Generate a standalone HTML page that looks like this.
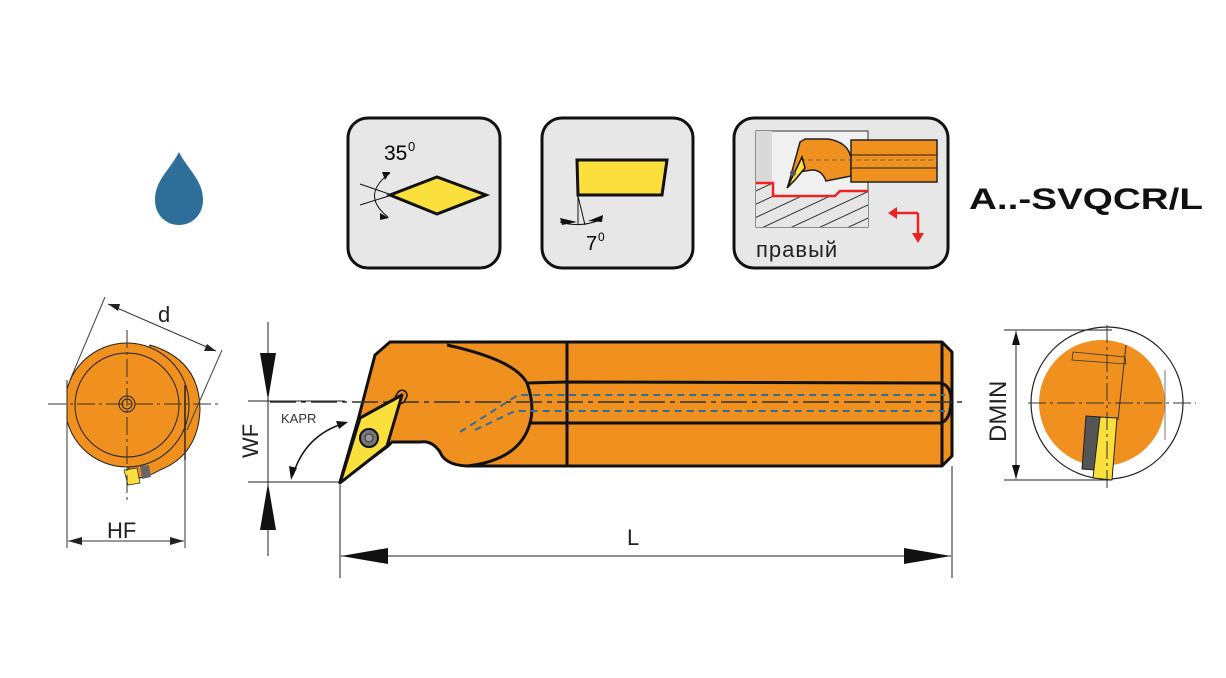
<!DOCTYPE html>
<html><head><meta charset="utf-8"><style>html,body{margin:0;padding:0;background:#fff}svg{display:block}</style></head>
<body>
<svg width="1226" height="678" viewBox="0 0 1226 678" xmlns="http://www.w3.org/2000/svg" font-family="Liberation Sans, sans-serif">
<defs>
<pattern id="hatch" width="12" height="12" patternUnits="userSpaceOnUse" patternTransform="rotate(-25)">
<rect width="12" height="12" fill="#e6e6e6"/><line x1="0" y1="0" x2="12" y2="0" stroke="#333" stroke-width="2"/></pattern>
<clipPath id="rc"><rect x="1000" y="300" width="165" height="200"/></clipPath>
<clipPath id="lc"><rect x="67" y="300" width="200" height="250"/></clipPath>
</defs>
<!-- drop -->
<path d="M179,152 C170,170 155,180 155,200 C155,215 166,225 179,225 C192,225 203,215 203,200 C203,180 188,170 179,152 Z" fill="#2e6f9a"/>
<!-- icon boxes -->
<rect x="348" y="118" width="152" height="150" rx="20" fill="#e8e7e8" stroke="#111" stroke-width="3"/>
<rect x="542" y="118" width="151" height="150" rx="20" fill="#e8e7e8" stroke="#111" stroke-width="3"/>
<rect x="734" y="118" width="214" height="150" rx="20" fill="#e8e7e8" stroke="#111" stroke-width="3"/>
<!-- icon1 -->
<polygon points="390,195 437,177 486,195 437,214" fill="#fbdf3c" stroke="#111" stroke-width="3"/>
<line x1="360" y1="184" x2="392" y2="195" stroke="#111"/><line x1="360" y1="205" x2="392" y2="195" stroke="#111"/>
<path d="M390,173 Q360,195 388,217" fill="none" stroke="#111"/>
<polygon points="382,172 390,172 385,180" fill="#111"/><polygon points="380,213 389,218 380,220" fill="#111"/>
<text x="384" y="160" font-size="21">35</text><text x="408" y="151" font-size="13">0</text>
<!-- icon2 -->
<polygon points="577,160 667,160 662,195 578,195" fill="#fbdf3c" stroke="#111" stroke-width="3"/>
<line x1="578" y1="196" x2="578" y2="225" stroke="#111"/><line x1="578" y1="196" x2="585" y2="225" stroke="#111"/>
<path d="M560,222 Q580,228 600,220" fill="none" stroke="#111"/>
<polygon points="560,218 577,222 562,225" fill="#111"/><polygon points="603,215 588,221 602,222" fill="#111"/>
<text x="586" y="250" font-size="20">7</text><text x="598" y="241" font-size="12">0</text>
<!-- icon3 -->
<rect x="756" y="131" width="112" height="96" fill="#f0f0f0" stroke="#333" stroke-width="1"/>
<rect x="756" y="131" width="16" height="52" fill="#d9d9d9"/>
<polygon points="756,183 772,183 772,196 835,196 840,190 868,190 868,227 756,227" fill="url(#hatch)"/>
<polyline points="756,183 773,183 773,196 835,196 840,191 868,191" fill="none" stroke="#e22" stroke-width="2.5"/>
<path d="M800,142 L805,139 L828,139 Q848,142 851,158 L851,176 L826,181 Q822,170 812,170 L798,172 L788,186 Z" fill="#f0901e" stroke="#222" stroke-width="1.5"/>
<rect x="851" y="140" width="86" height="42" fill="#f0901e" stroke="#222" stroke-width="1.5"/>
<line x1="851" y1="155" x2="937" y2="155" stroke="#222"/><line x1="851" y1="168" x2="937" y2="168" stroke="#222"/>
<line x1="800" y1="160" x2="937" y2="160" stroke="#555" stroke-dasharray="5,3" stroke-width="0.8"/>
<polygon points="787,188 802,157 805,168 795,180" fill="#fbdf3c" stroke="#111" stroke-width="1.5"/>
<circle cx="793" cy="173" r="3" fill="#555"/>
<polyline points="918,213 918,238" fill="none" stroke="#e22" stroke-width="2.5"/>
<polyline points="918,213 895,213" fill="none" stroke="#e22" stroke-width="2.5"/>
<polygon points="888,213 897,207 897,219" fill="#e22"/><polygon points="918,243 912,233 924,233" fill="#e22"/>
<text x="756" y="257" font-size="22" fill="#222" letter-spacing="1">правый</text>
<!-- title -->
<text x="969" y="209" font-size="30" font-weight="bold" textLength="234" lengthAdjust="spacingAndGlyphs" fill="#111">A..-SVQCR/L</text>

<!-- left view -->
<g clip-path="url(#lc)">
<path d="M150,345 Q200,360 200,410 Q198,455 160,470 Q150,476 140,478 L127,467 Z" fill="#f0901e" stroke="#222" stroke-width="1"/>
<circle cx="127" cy="405" r="62" fill="#f0901e" stroke="#222" stroke-width="1"/>
</g>
<line x1="67" y1="380" x2="67" y2="430" stroke="#222"/>
<circle cx="127" cy="405" r="52" fill="none" stroke="#222" stroke-width="1"/>
<circle cx="127" cy="404" r="8" fill="none" stroke="#222"/><circle cx="127" cy="404" r="5" fill="none" stroke="#222"/>
<line x1="185" y1="385" x2="185" y2="460" stroke="#222" stroke-width="1.5"/>
<polygon points="124,470 137,468 140,483 128,485" fill="#fbdf3c" stroke="#333" stroke-width="0.8"/>
<polygon points="140,466 149,465 151,477 142,479" fill="#666"/>
<line x1="48" y1="404" x2="218" y2="404" stroke="#333" stroke-dasharray="18,4,3,4"/>
<line x1="127" y1="330" x2="127" y2="500" stroke="#333" stroke-dasharray="18,4,3,4"/>
<line x1="105" y1="297" x2="70" y2="380" stroke="#444"/><line x1="222" y1="350" x2="187" y2="430" stroke="#444"/>
<line x1="108" y1="304" x2="216" y2="351" stroke="#333"/>
<polygon points="108,304 120,304 118,311" fill="#222"/><polygon points="216,351 204,351 207,344" fill="#222"/>
<text x="158" y="322" font-size="22" fill="#222">d</text>
<line x1="67" y1="420" x2="67" y2="548" stroke="#333"/><line x1="185" y1="430" x2="185" y2="548" stroke="#333"/>
<line x1="68" y1="541" x2="184" y2="541" stroke="#333"/>
<polygon points="68,541 82,537 82,545" fill="#222"/><polygon points="184,541 170,537 170,545" fill="#222"/>
<text x="107" y="538" font-size="22" fill="#222">HF</text>

<!-- main tool -->
<line x1="248" y1="401" x2="345" y2="401" stroke="#222"/><line x1="248" y1="482" x2="340" y2="482" stroke="#222"/>
<line x1="268" y1="322" x2="268" y2="556" stroke="#222"/>
<polygon points="260,353 276,353 268,400" fill="#111"/><polygon points="260,530 276,530 268,483" fill="#111"/>
<text transform="translate(258,458) rotate(-90)" font-size="22" fill="#222">WF</text>
<text x="281" y="423" font-size="13" fill="#333">KAPR</text>
<path d="M293,475 Q305,435 345,423" fill="none" stroke="#111" stroke-width="1.5"/>
<polygon points="291,480 289,466 297,468" fill="#111"/><polygon points="348,422 336,421 339,429" fill="#111"/>

<path d="M390,342 L942,342 L952,352 L952,456 L942,466 L467,466 Q445,465 440,452 Q432,440 420,442 L392,442 L388,446 L340,482 L358,420 L375,355 Z" fill="#f0901e" stroke="#111" stroke-width="3" stroke-linejoin="round"/>
<path d="M447,345 Q515,360 527,383 Q535,405 530,423 Q520,460 467,466" fill="none" stroke="#111" stroke-width="3"/>
<path d="M527,383 L567,382 L940,383 Q952,385 951,403 Q950,421 940,423 L567,423 L530,423" fill="none" stroke="#111" stroke-width="3"/>
<line x1="567" y1="342" x2="567" y2="466" stroke="#111" stroke-width="3"/>
<line x1="942" y1="342" x2="942" y2="466" stroke="#111" stroke-width="3"/>
<line x1="390" y1="342" x2="375" y2="355" stroke="#111" stroke-width="2"/>
<line x1="270" y1="402" x2="965" y2="402" stroke="#333" stroke-width="1.5" stroke-dasharray="26,5,5,5"/>
<path d="M460,432 L518,395 L945,395 M475,430 L515,411 L945,411" fill="none" stroke="#2e6f9a" stroke-width="2" stroke-dasharray="7,5"/>
<rect x="396" y="390" width="10" height="14" rx="5" transform="rotate(30 401 397)" fill="#f0901e" stroke="#111" stroke-width="1.5"/>
<polygon points="340,483 360,418 402,395 387,446" fill="#fbdf3c" stroke="#111" stroke-width="3" stroke-linejoin="round"/>
<circle cx="369" cy="438" r="9" fill="#777" stroke="#111" stroke-width="2"/><circle cx="369" cy="438" r="4" fill="#999" stroke="#333"/>
<!-- L -->
<line x1="340" y1="485" x2="340" y2="578" stroke="#222"/><line x1="952" y1="466" x2="952" y2="578" stroke="#222"/>
<line x1="341" y1="556" x2="951" y2="556" stroke="#222"/>
<polygon points="341,556 388,548 388,564" fill="#111"/><polygon points="951,556 904,548 904,564" fill="#111"/>
<text x="627" y="545" font-size="22" fill="#222">L</text>

<!-- right view -->
<circle cx="1107" cy="403" r="76" fill="#fff" stroke="#222" stroke-width="1.2"/>
<circle cx="1102" cy="403" r="63" fill="#f0901e" clip-path="url(#rc)"/>
<line x1="1165" y1="370" x2="1165" y2="440" stroke="#555" stroke-width="0.8"/>
<polygon points="1073,352 1125,357 1126,364 1072,360" fill="#f0901e" stroke="#333" stroke-width="0.8"/>
<line x1="1126" y1="345" x2="1118" y2="420" stroke="#333" stroke-width="1"/>
<polygon points="1086,416 1100,417 1095,470 1082,469" fill="#555" stroke="#222"/>
<polygon points="1100,417 1117,418 1112,480 1093,478" fill="#fbdf3c" stroke="#222"/>
<line x1="1028" y1="403" x2="1196" y2="403" stroke="#333" stroke-dasharray="18,4,3,4"/>
<line x1="1107" y1="325" x2="1107" y2="488" stroke="#333" stroke-dasharray="18,4,3,4"/>
<line x1="1004" y1="330" x2="1112" y2="330" stroke="#222"/><line x1="1004" y1="480" x2="1112" y2="480" stroke="#222"/>
<line x1="1016" y1="331" x2="1016" y2="479" stroke="#222"/>
<polygon points="1016,331 1012,345 1020,345" fill="#111"/><polygon points="1016,479 1012,465 1020,465" fill="#111"/>
<text transform="translate(1006,442) rotate(-90)" font-size="24" fill="#222">DMIN</text>
</svg>
</body></html>
